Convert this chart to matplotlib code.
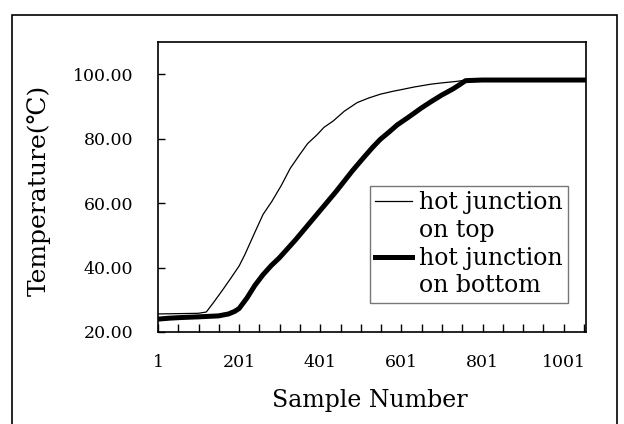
import matplotlib
matplotlib.use("Agg")
import matplotlib.pyplot as plt
from matplotlib.lines import Line2D
from matplotlib.patches import Rectangle
from matplotlib.ticker import FixedLocator, FuncFormatter

# hot junction on top (thin line)
top_n = [1, 50, 100, 120, 137, 160, 180, 201, 215, 240, 260, 282, 305, 327, 350,
         370, 393, 410, 433, 460, 492, 520, 549, 580, 600, 631, 673, 700, 739, 760,
         800, 850, 900, 950, 1000, 1056]
top_t = [25.6, 25.7, 25.8, 26.2, 29.0, 33.0, 36.6, 40.5, 44.0, 51.0, 56.5, 60.6, 65.5,
         70.8, 75.0, 78.5, 81.2, 83.5, 85.5, 88.5, 91.2, 92.6, 93.8, 94.7, 95.2, 96.0,
         96.9, 97.3, 97.8, 98.2, 98.3, 98.4, 98.6, 98.5, 98.5, 98.4]

# hot junction on bottom (thick line)
bot_n = [1, 30, 60, 100, 150, 175, 190, 201, 220, 240, 260, 280, 300, 320, 340, 360,
         380, 400, 420, 440, 460, 480, 507, 530, 549, 570, 591, 620, 650, 673, 700,
         729, 745, 759, 800, 900, 1000, 1056]
bot_t = [24.0, 24.3, 24.5, 24.7, 25.0, 25.6, 26.4, 27.3, 30.5, 34.5, 37.8, 40.6, 43.0,
         45.8, 48.6, 51.6, 54.6, 57.6, 60.6, 63.6, 66.8, 70.0, 74.0, 77.3, 79.8, 82.0,
         84.3, 86.8, 89.5, 91.4, 93.5, 95.5, 96.8, 98.0, 98.2, 98.2, 98.2, 98.2]

x_labels = [1, 201, 401, 601, 801, 1001]
y_ticks = [20, 40, 60, 80, 100]

plt.rcParams["font.family"] = ["DejaVu Serif", "DejaVu Sans"]

fig = plt.figure(figsize=(6.24, 4.24), dpi=100)
ax = fig.add_axes([158 / 624, (424 - 332) / 424, 428 / 624, 290 / 424])

l1, = ax.plot(top_n, top_t, color="black", lw=0.9)
l2, = ax.plot(bot_n, bot_t, color="black", lw=3.6)

ax.set_xlim(1, 1056)
ax.set_ylim(20, 110)

ax.xaxis.set_major_locator(FixedLocator(list(range(1, 1056, 50))))
ax.xaxis.set_major_formatter(FuncFormatter(lambda v, p: str(int(round(v))) if int(round(v)) in x_labels else ""))
ax.yaxis.set_major_locator(FixedLocator(y_ticks))
ax.yaxis.set_major_formatter(FuncFormatter(lambda v, p: "%.2f" % v))

ax.tick_params(axis="x", direction="in", length=6, width=1, labelsize=12.5, pad=16)
ax.tick_params(axis="y", direction="in", length=5, width=1, labelsize=12.5, pad=18)
for s in ax.spines.values():
    s.set_linewidth(1.2)

ax.set_xlabel("Sample Number", fontsize=17)
ax.set_ylabel("Temperature(℃)", fontsize=18)
ax.xaxis.set_label_coords(0.495, -0.195)
ax.yaxis.set_label_coords(-0.25, 0.49)

# second line of each label as its own row, so the line sits by the first line
blank = Line2D([], [], color="none")
leg = ax.legend([l1, blank, l2, blank],
                ["hot junction", "on top", "hot junction", "on bottom"],
                loc="upper left", bbox_to_anchor=(0.495, 0.503), borderaxespad=0,
                fontsize=17, frameon=True, fancybox=False, handlelength=1.55,
                handletextpad=0.3, borderpad=0.22, labelspacing=0.2)
leg.get_frame().set_edgecolor("#555555")
leg.get_frame().set_linewidth(1.0)

fig.patches.append(Rectangle((12 / 624, -0.05), 605 / 624, 1 - 15 / 424 + 0.05,
                             transform=fig.transFigure, fill=False, lw=1.2,
                             edgecolor="black"))

fig.savefig("out.png", dpi=100)
